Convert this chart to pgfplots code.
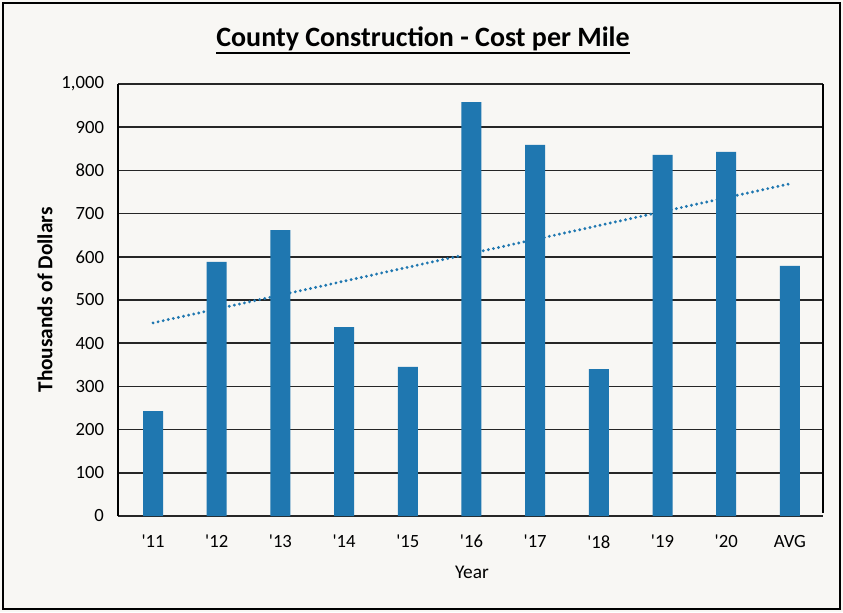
\documentclass[border=0pt]{standalone}
\usepackage{pgfplots}
\pgfplotsset{compat=1.18}
\usepackage{fontspec}
\setmainfont{Carlito}
\definecolor{barblue}{RGB}{31,119,176}
\definecolor{bg}{RGB}{248,247,244}
\begin{document}
\begin{tikzpicture}
\path[use as bounding box] (0pt,0pt) rectangle (632.25pt,459pt);
\fill[bg] (0pt,0pt) rectangle (632.25pt,459pt);
\draw[line width=1.4pt] (2.5pt,2.5pt) rectangle (629.75pt,456.5pt);
\node[font=\fontsize{21}{24}\selectfont\bfseries, inner sep=0pt, anchor=base] (T) at (317.25pt,424pt) {County Construction - Cost per Mile};
\draw[line width=1.6pt] ([yshift=-4.5pt]T.base west) -- ([yshift=-4.5pt]T.base east);
\node[font=\fontsize{16}{18}\selectfont\bfseries, rotate=90] at (33.75pt,234pt) {Thousands of Dollars};
\node[font=\fontsize{14.5}{17}\selectfont] at (354pt,30pt) {Year};
\begin{axis}[
  at={(88.5pt,72pt)}, anchor=south west,
  scale only axis, width=528.75pt, height=324pt,
  ybar, bar width=15pt,
  xmin=-0.55, xmax=10.52,
  ymin=0, ymax=1000,
  ytick={0,100,...,1000},
  xtick={0,...,10},
  xticklabels={\textquotesingle 11,\textquotesingle 12,\textquotesingle 13,\textquotesingle 14,\textquotesingle 15,\textquotesingle 16,\textquotesingle 17,\textquotesingle 18,\textquotesingle 19,\textquotesingle 20,AVG},
  ymajorgrids,
  grid style={black!85, line width=1.1pt},
  axis line style={draw=none},
  major tick length=0pt,
  /pgf/number format/1000 sep={,},
  /pgf/number format/assume math mode=true,
  tick label style={font=\fontsize{14}{16}\selectfont},
  yticklabel style={xshift=-7pt},
  xticklabel style={yshift=-11pt},
  clip=false,
]
\addplot[fill=barblue, draw=none] coordinates {
(0,243) (1,588) (2,662) (3,437) (4,345) (5,958) (6,859) (7,340) (8,836) (9,843) (10,579)};
\addplot[sharp plot, barblue, line width=2.4pt, line cap=round, dash pattern=on 0pt off 3.9pt, forget plot] coordinates {(0,447) (10,769)};
\draw[black, line width=1.2pt] (rel axis cs:0,0) -- (rel axis cs:0,1);
\draw[black, line width=1.2pt] (rel axis cs:1,0.008) -- (rel axis cs:1,1);
\end{axis}
\end{tikzpicture}
\end{document}
